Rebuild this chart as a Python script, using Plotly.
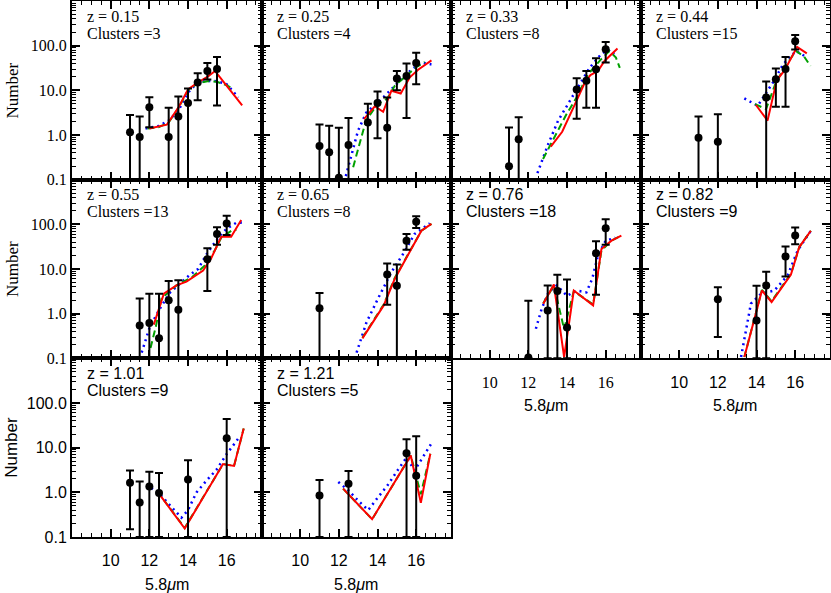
import plotly.graph_objects as go
from plotly.subplots import make_subplots

# ---------------- data ----------------
redshifts = ["0.15", "0.25", "0.33", "0.44", "0.55", "0.65", "0.76", "0.82", "1.01", "1.21"]
clusters = [3, 4, 8, 15, 13, 8, 18, 9, 9, 5]
x_tick_vals = [8, 10, 12, 14, 16]
x_tick_text = ["", "10", "12", "14", "16"]
y_tick_vals = [0.1, 1, 10, 100]
y_tick_text = ["0.1", "1.0", "10.0", "100.0"]
AXMIN = 0.1  # error bars reaching the bottom of the panel

# z = 0.15
z015_pts_x = [11.0, 11.5, 12.0, 13.0, 13.5, 14.0, 14.5, 15.0, 15.5]
z015_pts_y = [1.15, 0.9, 4.2, 0.9, 2.6, 5.2, 15, 27, 30]
z015_hi = [2.8, 2.6, 7.0, 4.1, 7.3, 11, 24, 41, 56]
z015_lo = [AXMIN, AXMIN, 1.5, AXMIN, AXMIN, AXMIN, 6.0, 17.5, 4.6]
z015_red_x = [12.0, 12.9, 13.5, 14.0, 14.5, 15.0, 15.4, 16.8]
z015_red_y = [1.4, 1.7, 4.1, 10.5, 15, 20, 27, 4.6]
z015_grn_x = [11.9, 12.5, 13.0, 13.5, 14.0, 14.5, 15.0, 15.5, 16.0, 16.3]
z015_grn_y = [1.4, 1.5, 1.9, 4.0, 10, 14.5, 16, 15.5, 13, 11]
z015_blu_x = [11.8, 12.5, 13.0, 13.5, 14.0, 14.5, 15.0, 15.5, 16.0, 16.6]
z015_blu_y = [1.4, 1.6, 2.1, 3.5, 8.9, 15, 16.3, 16, 13.7, 6.9]

# z = 0.25
z025_pts_x = [11.0, 11.5, 12.0, 12.5, 13.5, 14.0, 14.5, 15.0, 15.5, 16.0]
z025_pts_y = [0.57, 0.41, 0.11, 0.6, 1.9, 5.2, 1.45, 18.4, 21, 41]
z025_hi = [1.72, 1.61, 1.45, 2.4, 5.0, 9.4, 6.9, 27, 40, 69]
z025_lo = [AXMIN, AXMIN, AXMIN, AXMIN, AXMIN, 0.85, AXMIN, 10.1, 2.4, 13.7]
z025_red_x = [13.3, 13.86, 14.29, 14.72, 15.2, 15.67, 16.1, 16.79]
z025_red_y = [2.27, 4.4, 3.3, 9.8, 8.5, 19.6, 29, 47]
z025_grn_x = [12.74, 13.4, 14.0, 14.5, 14.89, 15.5, 16.0, 16.44]
z025_grn_y = [0.19, 2.1, 4.9, 6.5, 12.6, 22, 33, 43]
z025_blu_x = [12.36, 12.99, 13.42, 14.02, 14.72, 15.24, 15.75, 16.27, 16.79]
z025_blu_y = [0.12, 1.24, 3.2, 5.3, 10.6, 17.8, 29, 42, 38]

# z = 0.33
z033_pts_x = [11.0, 11.5, 14.5, 15.0, 15.5, 16.0]
z033_pts_y = [0.2, 0.8, 10.4, 16.3, 29.7, 83]
z033_hi = [1.48, 2.5, 18.6, 27, 52, 121]
z033_lo = [AXMIN, AXMIN, 2.3, 4.1, 4.1, 42]
z033_red_x = [13.16, 13.75, 14.49, 14.92, 15.21, 15.6, 15.95, 16.3, 16.61]
z033_red_y = [0.55, 1.18, 5.8, 15, 22, 27, 46, 65, 86]
z033_grn_x = [12.76, 13.36, 13.97, 14.49, 15.09, 15.77, 16.19, 16.53, 16.73]
z033_grn_y = [0.29, 0.88, 2.9, 6.9, 23, 50, 76, 54, 32]
z033_blu_x = [12.47, 13.03, 13.54, 14.06, 14.57, 15.17, 15.77, 16.11, 16.45]
z033_blu_y = [0.14, 0.63, 2.1, 4.9, 11.6, 32, 65, 79, 65]

# z = 0.44
z044_pts_x = [11.0, 12.0, 14.5, 15.0, 15.5, 16.0]
z044_pts_y = [0.87, 0.71, 6.9, 17.8, 30, 126]
z044_hi = [2.6, 2.9, 15.7, 31, 56, 174]
z044_lo = [AXMIN, AXMIN, AXMIN, 4.3, 4.3, 82]
z044_red_x = [13.97, 14.57, 15.05, 15.45, 16.1, 16.6]
z044_red_y = [4.7, 2.1, 17, 28, 94, 67]
z044_grn_x = [13.92, 14.49, 15.0, 15.5, 16.03, 16.45, 16.79]
z044_grn_y = [4.9, 3.8, 15, 35, 76, 58, 35]
z044_blu_x = [13.37, 14.06, 14.85, 15.37, 16.04, 16.63]
z044_blu_y = [6.6, 4.5, 15, 38, 76, 54]

# z = 0.55
z055_pts_x = [11.5, 12.0, 12.5, 13.0, 13.5, 15.0, 15.5, 16.0]
z055_pts_y = [0.54, 0.62, 0.28, 2.0, 1.22, 16.6, 61, 105]
z055_hi = [2.2, 2.8, 2.8, 5.4, 5.6, 29, 86, 155]
z055_lo = [AXMIN, AXMIN, AXMIN, AXMIN, AXMIN, 3.2, 35, 58]
z055_red_x = [12.23, 12.75, 13.4, 13.92, 14.78, 15.2, 15.72, 16.23, 16.75]
z055_red_y = [0.57, 2.8, 4.3, 5.2, 9.2, 17.4, 53, 53, 125]
z055_grn_x = [12.06, 12.33, 12.63, 13.4, 14.2, 14.87, 15.38, 15.73, 16.25, 16.5]
z055_grn_y = [0.17, 0.5, 2.2, 4.3, 6.5, 12, 26, 51, 72, 75]
z055_blu_x = [11.51, 12.02, 12.54, 13.08, 13.49, 14.09, 14.52, 15.03, 15.63, 16.0, 16.49, 16.9]
z055_blu_y = [0.1, 0.5, 1.29, 3.0, 4.3, 7.4, 10, 24, 55, 80, 108, 110]

# z = 0.65
z065_pts_x = [11.0, 14.5, 15.0, 15.5, 16.0]
z065_pts_y = [1.33, 7.5, 4.2, 43, 115]
z065_hi = [2.9, 13.3, 12.6, 61, 151]
z065_lo = [AXMIN, 1.58, AXMIN, 27, 83]
z065_red_x = [13.22, 14.32, 14.89, 15.67, 16.27, 16.79]
z065_red_y = [0.28, 1.53, 6.0, 24, 72, 102]
z065_grn_x = [13.22, 14.32, 14.89, 15.67, 16.27, 16.79]
z065_grn_y = [0.29, 1.6, 6.3, 25, 72, 102]
z065_blu_x = [12.82, 13.43, 14.03, 14.72, 15.33, 15.92, 16.7]
z065_blu_y = [0.1, 0.64, 2.2, 8.5, 22, 61, 105]

# z = 0.76
z076_pts_x = [12.0, 13.0, 13.5, 14.0, 15.5, 16.0]
z076_pts_y = [0.105, 1.18, 3.2, 0.49, 22.5, 82]
z076_hi = [1.95, 4.3, 7.4, 5.8, 42, 130]
z076_lo = [AXMIN, AXMIN, AXMIN, AXMIN, 2.65, 35]
z076_red_x = [12.77, 13.32, 13.85, 14.35, 15.35, 15.78, 16.3, 16.81]
z076_red_y = [1.67, 4.5, 0.107, 3.3, 1.53, 28, 43, 56]
z076_grn_x = [12.77, 13.32, 13.85, 14.35, 15.35, 15.78, 16.3, 16.81]
z076_grn_y = [1.7, 4.3, 0.45, 3.2, 1.6, 26, 43, 56]
z076_blu_x = [12.39, 12.69, 13.04, 13.47, 14.0, 14.5, 15.0, 15.3, 15.6, 16.0, 16.5]
z076_blu_y = [0.46, 1.29, 3.0, 4.3, 2.5, 3.3, 3.0, 6.0, 20, 43, 50]

# z = 0.82
z082_pts_x = [12.0, 14.0, 14.5, 15.5, 16.0]
z082_pts_y = [2.1, 0.7, 4.3, 19, 56]
z082_hi = [3.9, 4.2, 8.7, 32, 85]
z082_lo = [0.3, AXMIN, AXMIN, 6.8, 36]
z082_red_x = [13.37, 14.28, 14.78, 15.78, 16.21, 16.81]
z082_red_y = [0.107, 3.3, 1.81, 7.5, 31, 72]
z082_grn_x = [13.37, 14.28, 14.78, 15.78, 16.21, 16.81]
z082_grn_y = [0.107, 3.4, 1.9, 7.8, 31, 72]
z082_blu_x = [13.2, 13.71, 14.24, 14.92, 15.61, 16.13, 16.81]
z082_blu_y = [0.107, 1.67, 2.8, 3.3, 7.2, 26, 72]

# z = 1.01
z101_pts_x = [11.0, 11.5, 12.0, 12.5, 14.0, 16.0]
z101_pts_y = [1.63, 0.59, 1.35, 0.96, 1.94, 16.3]
z101_hi = [3.1, 1.75, 2.9, 2.7, 5.25, 44]
z101_lo = [0.15, AXMIN, AXMIN, AXMIN, AXMIN, AXMIN]
z101_red_x = [12.41, 13.83, 15.81, 16.38, 16.88]
z101_red_y = [1.05, 0.155, 4.3, 3.9, 27]
z101_grn_x = [12.41, 13.83, 15.81, 16.38, 16.88]
z101_grn_y = [1.05, 0.16, 4.3, 3.9, 27]
z101_blu_x = [12.1, 12.5, 13.0, 13.66, 14.0, 14.44, 14.96, 15.47, 16.0, 16.6]
z101_blu_y = [1.25, 0.95, 0.55, 0.27, 0.4, 1.0, 1.84, 3.2, 7.2, 16]

# z = 1.21
z121_pts_x = [11.0, 12.5, 15.5, 16.0]
z121_pts_y = [0.85, 1.55, 7.5, 2.35]
z121_hi = [1.88, 3.0, 15.5, 18]
z121_lo = [AXMIN, AXMIN, AXMIN, AXMIN]
z121_red_x = [12.22, 13.72, 15.72, 16.24, 16.73]
z121_red_y = [1.21, 0.25, 6.7, 0.58, 7.3]
z121_grn_x = [12.22, 13.72, 15.72, 16.24, 16.73]
z121_grn_y = [1.21, 0.25, 6.7, 0.9, 7.3]
z121_blu_x = [11.97, 12.5, 13.0, 13.52, 14.0, 14.5, 15.08, 15.5, 15.92, 16.4, 16.86]
z121_blu_y = [1.7, 1.1, 0.65, 0.4, 0.75, 1.4, 3.3, 6.0, 3.1, 6.5, 14]

panels = [
    (z015_pts_x, z015_pts_y, z015_hi, z015_lo, z015_red_x, z015_red_y, z015_grn_x, z015_grn_y, z015_blu_x, z015_blu_y),
    (z025_pts_x, z025_pts_y, z025_hi, z025_lo, z025_red_x, z025_red_y, z025_grn_x, z025_grn_y, z025_blu_x, z025_blu_y),
    (z033_pts_x, z033_pts_y, z033_hi, z033_lo, z033_red_x, z033_red_y, z033_grn_x, z033_grn_y, z033_blu_x, z033_blu_y),
    (z044_pts_x, z044_pts_y, z044_hi, z044_lo, z044_red_x, z044_red_y, z044_grn_x, z044_grn_y, z044_blu_x, z044_blu_y),
    (z055_pts_x, z055_pts_y, z055_hi, z055_lo, z055_red_x, z055_red_y, z055_grn_x, z055_grn_y, z055_blu_x, z055_blu_y),
    (z065_pts_x, z065_pts_y, z065_hi, z065_lo, z065_red_x, z065_red_y, z065_grn_x, z065_grn_y, z065_blu_x, z065_blu_y),
    (z076_pts_x, z076_pts_y, z076_hi, z076_lo, z076_red_x, z076_red_y, z076_grn_x, z076_grn_y, z076_blu_x, z076_blu_y),
    (z082_pts_x, z082_pts_y, z082_hi, z082_lo, z082_red_x, z082_red_y, z082_grn_x, z082_grn_y, z082_blu_x, z082_blu_y),
    (z101_pts_x, z101_pts_y, z101_hi, z101_lo, z101_red_x, z101_red_y, z101_grn_x, z101_grn_y, z101_blu_x, z101_blu_y),
    (z121_pts_x, z121_pts_y, z121_hi, z121_lo, z121_red_x, z121_red_y, z121_grn_x, z121_grn_y, z121_blu_x, z121_blu_y),
]

# ---------------- styling ----------------
SERIF = "Liberation Serif, Times New Roman, serif"
SANS = "Liberation Sans, Arial, Helvetica, sans-serif"
positions = [(1, 1), (1, 2), (1, 3), (1, 4), (2, 1), (2, 2), (2, 3), (2, 4), (3, 1), (3, 2)]
text_font = [SERIF] * 6 + [SANS] * 4
xlabel_panels = {6: SERIF, 7: SANS, 8: SANS, 9: SANS}
row_yfont = {1: SERIF, 2: SERIF, 3: SANS}

minor_y = [m * 10 ** e for e in (-1, 0, 1, 2) for m in range(2, 10)]

fig = make_subplots(rows=3, cols=4, horizontal_spacing=0, vertical_spacing=0,
                    specs=[[{}, {}, {}, {}], [{}, {}, {}, {}], [{}, {}, None, None]])

for i, (px, py, hi, lo, rx, ry, gx, gy, bx, by) in enumerate(panels):
    r, c = positions[i]
    fig.add_trace(go.Scatter(x=bx, y=by, mode="lines",
                             line=dict(color="#0000ff", width=2.5, dash="2px,4px"),
                             showlegend=False), row=r, col=c)
    fig.add_trace(go.Scatter(x=gx, y=gy, mode="lines",
                             line=dict(color="#00a000", width=2, dash="7px,4px"),
                             showlegend=False), row=r, col=c)
    fig.add_trace(go.Scatter(x=rx, y=ry, mode="lines",
                             line=dict(color="#ff0000", width=2),
                             showlegend=False), row=r, col=c)
    fig.add_trace(go.Scatter(
        x=px, y=py, mode="markers",
        marker=dict(color="black", size=8),
        error_y=dict(type="data", symmetric=False,
                     array=[h - v for h, v in zip(hi, py)],
                     arrayminus=[v - l for v, l in zip(py, lo)],
                     color="black", thickness=2, width=4),
        showlegend=False), row=r, col=c)

    show_x = i in xlabel_panels
    fig.update_xaxes(
        row=r, col=c, range=[8, 17.8], tickmode="array",
        tickvals=x_tick_vals, ticktext=x_tick_text,
        showticklabels=show_x, automargin=False,
        tickfont=dict(family=xlabel_panels.get(i, SANS), size=16, color="black"),
        ticks="inside", ticklen=8, tickwidth=1.5, tickcolor="black",
        minor=dict(ticks="inside", ticklen=4, tickwidth=1.2, tickcolor="black", dtick=0.5, tick0=8),
        showline=True, linewidth=2, linecolor="black", mirror="ticks",
        showgrid=False, zeroline=False, ticklabelstandoff=8)
    fig.update_yaxes(
        row=r, col=c, type="log", range=[-1, 3], tickmode="array",
        tickvals=y_tick_vals, ticktext=y_tick_text,
        showticklabels=(c == 1), automargin=False,
        tickfont=dict(family=row_yfont[r], size=16, color="black"),
        ticks="inside", ticklen=8, tickwidth=1.5, tickcolor="black",
        minor=dict(ticks="inside", ticklen=4, tickwidth=1.2, tickcolor="black", tickvals=minor_y),
        showline=True, linewidth=2, linecolor="black", mirror="ticks",
        showgrid=False, zeroline=False)

    k = i + 1
    xref = "x domain" if k == 1 else f"x{k} domain"
    yref = "y domain" if k == 1 else f"y{k} domain"
    fig.add_annotation(xref=xref, yref=yref, x=0.07, y=0.915, xanchor="left", yanchor="middle",
                       text=f"z = {redshifts[i]}", showarrow=False,
                       font=dict(family=text_font[i], size=16, color="black"))
    fig.add_annotation(xref=xref, yref=yref, x=0.07, y=0.82, xanchor="left", yanchor="middle",
                       text=f"Clusters ={clusters[i]}", showarrow=False,
                       font=dict(family=text_font[i], size=16, color="black"))
    if show_x:
        fig.add_annotation(xref=xref, yref=yref, x=0.5, y=0, yshift=-47, xanchor="center", yanchor="middle",
                           text="5.8<i>μ</i>m", showarrow=False,
                           font=dict(family=SANS, size=16, color="black"))
    if c == 1:
        fig.add_annotation(xref="paper", yref=yref, x=-0.079, y=0.5, xanchor="center", yanchor="middle",
                           text="Number", textangle=-90, showarrow=False,
                           font=dict(family=row_yfont[r], size=17, color="black"))

fig.update_layout(width=831, height=593, margin=dict(l=72, r=1, t=1, b=56, autoexpand=False),
                  paper_bgcolor="white", plot_bgcolor="white", showlegend=False)

fig.write_html("out.html", config={"displayModeBar": False},
               post_script="document.body.style.margin='0';document.body.style.padding='0';")
